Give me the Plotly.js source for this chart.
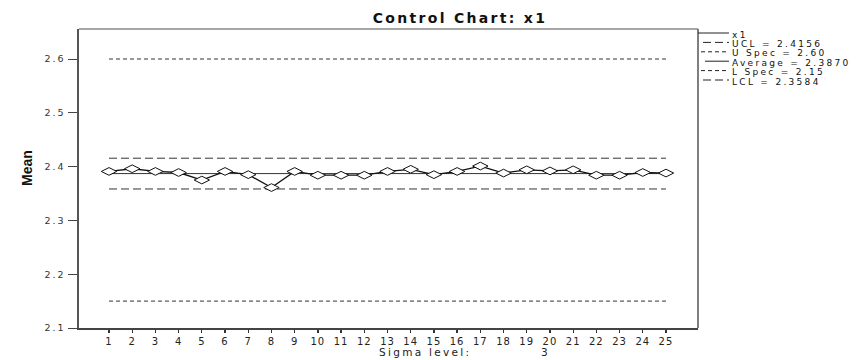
<!DOCTYPE html>
<html>
<head>
<meta charset="utf-8">
<script src="https://cdn.plot.ly/plotly-3.0.1.min.js"></script>
<style>
html,body{margin:0;padding:0;background:#fff;}
#chart{width:861px;height:360px;}
.gtitle{letter-spacing:2.3px;}
.xtick text{letter-spacing:1px;}
.ytick text{letter-spacing:2px;}
.annotation-text[style*="DejaVu"]{letter-spacing:2.3px;}
</style>
</head>
<body>
<div id="chart"></div>
<script>
// ---- data ----
const samples = [1,2,3,4,5,6,7,8,9,10,11,12,13,14,15,16,17,18,19,20,21,22,23,24,25];
const means = [2.391,2.396,2.391,2.389,2.375,2.391,2.385,2.361,2.391,2.384,2.384,2.384,2.391,2.395,2.385,2.391,2.401,2.388,2.394,2.392,2.394,2.384,2.384,2.389,2.388];
const UCL = 2.4156;
const USpec = 2.60;
const Average = 2.3870;
const LSpec = 2.15;
const LCL = 2.3584;
const sigmaLevel = 3;
const yTicks = [2.1,2.2,2.3,2.4,2.5,2.6];

const flat = v => samples.map(() => v);
const limDash = '8px,4px';
const specDash = '4px,3px';

const traces = [
  {x: samples, y: flat(USpec), mode:'lines', line:{color:'#333', width:1, dash:specDash}, hoverinfo:'skip'},
  {x: samples, y: flat(LSpec), mode:'lines', line:{color:'#333', width:1, dash:specDash}, hoverinfo:'skip'},
  {x: samples, y: flat(UCL), mode:'lines', line:{color:'#333', width:1, dash:limDash}, hoverinfo:'skip'},
  {x: samples, y: flat(LCL), mode:'lines', line:{color:'#333', width:1, dash:limDash}, hoverinfo:'skip'},
  {x: samples, y: flat(Average), mode:'lines', line:{color:'#333', width:1}, hoverinfo:'skip'},
  {x: samples, y: means, mode:'lines+markers', line:{color:'#111', width:1.3},
   marker:{symbol:'diamond-wide', size:11, color:'#fff', line:{color:'#111', width:1}}}
];

// plot area in pixels: x 79..698, y 29..328
const L = 79, R = 698, T = 29, B = 328;
const px = p => (p - L) / (R - L);
const py = p => (B - p) / (B - T);

const legendItems = [
  {text:'x1', dash:'solid', x0:698},
  {text:'UCL = ' + UCL.toFixed(4), dash:limDash, x0:703},
  {text:'U Spec = ' + USpec.toFixed(2), dash:specDash, x0:701},
  {text:'Average = ' + Average.toFixed(4), dash:'solid', x0:705},
  {text:'L Spec = ' + LSpec.toFixed(2), dash:specDash, x0:701},
  {text:'LCL = ' + LCL.toFixed(4), dash:limDash, x0:703}
];
const legTop = 34.5, legStep = 9.4;
const annotations = [];
const shapes = [
  {type:'line', xref:'paper', yref:'paper', x0:0, x1:1, y0:1, y1:1, line:{color:'#888', width:1.5}},
  {type:'line', xref:'paper', yref:'paper', x0:1, x1:1, y0:0, y1:1, line:{color:'#555', width:1.5}}
];
legendItems.forEach((it, i) => {
  const yy = legTop + i * legStep;
  annotations.push({xref:'paper', yref:'paper', x:px(731), y:py(yy), xanchor:'left', yanchor:'middle',
    text:it.text, showarrow:false, borderpad:0,
    font:{family:'DejaVu Sans, sans-serif', size:9, color:'#111'}});
  shapes.push({type:'line', xref:'paper', yref:'paper', x0:px(it.x0), x1:px(729), y0:py(yy-1.5), y1:py(yy-1.5),
    line:{color:'#222', width:1, dash:it.dash}});
});
annotations.push({xref:'paper', yref:'paper', x:px(27), y:py(168), xanchor:'center', yanchor:'middle',
  text:'<b>Mean</b>', textangle:-90, showarrow:false,
  font:{family:'Liberation Sans Narrow, Arial Narrow, sans-serif', size:14, color:'#111'}});
annotations.push({xref:'paper', yref:'paper', x:px(425), y:py(352), xanchor:'center', yanchor:'middle',
  text:'Sigma level:', showarrow:false, borderpad:0,
  font:{family:'DejaVu Sans, sans-serif', size:10.5, color:'#222'}});
annotations.push({xref:'paper', yref:'paper', x:px(545), y:py(352), xanchor:'center', yanchor:'middle',
  text:String(sigmaLevel), showarrow:false, borderpad:0,
  font:{family:'DejaVu Sans, sans-serif', size:10.5, color:'#222'}});

const layout = {
  width:861, height:360,
  margin:{l:L, r:861-R, t:T, b:360-B, pad:0},
  paper_bgcolor:'#fff', plot_bgcolor:'#fff',
  showlegend:false,
  title:{text:'<b>Control Chart: x1</b>', x:460/861, xanchor:'center', xref:'container', y:1-18/360, yanchor:'middle', yref:'container',
    font:{family:'DejaVu Sans, sans-serif', size:14, color:'#111'}},
  xaxis:{range:[-0.293, 26.38], tickmode:'array', tickvals:samples, ticktext:samples.map(String),
    ticks:'outside', ticklen:3, tickwidth:1.3, tickcolor:'#333', showgrid:false, zeroline:false,
    showline:true, linecolor:'#444', linewidth:1.5,
    tickfont:{family:'DejaVu Sans, sans-serif', size:10, color:'#222'}},
  yaxis:{range:[2.1, 2.6 + 30/538], tickmode:'array', tickvals:yTicks, ticktext:yTicks.map(v=>v.toFixed(1)),
    ticks:'outside', ticklen:9, tickwidth:1, tickcolor:'#444', showgrid:false, zeroline:false,
    showline:true, linecolor:'#555', linewidth:2.5,
    tickfont:{family:'DejaVu Sans, sans-serif', size:9.5, color:'#333'}},
  annotations: annotations,
  shapes: shapes
};
Plotly.newPlot('chart', traces, layout, {staticPlot:true, displayModeBar:false});
</script>
</body>
</html>
